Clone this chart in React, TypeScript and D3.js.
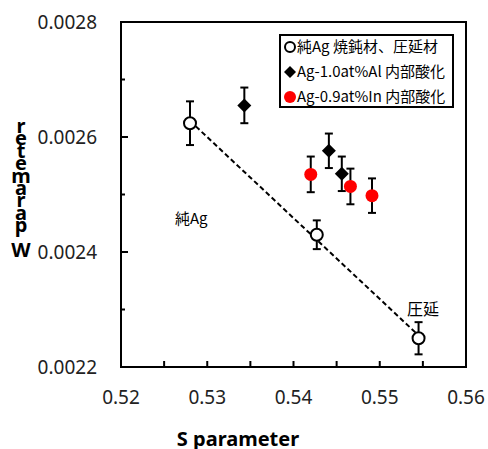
import * as d3 from "d3";

// x tick labels and y tick labels
const xTicks = [0.52, 0.53, 0.54, 0.55, 0.56];
const yTicks = [0.0022, 0.0024, 0.0026, 0.0028];

// Pure Ag (annealed, rolled)
const pureS = [0.528, 0.5427, 0.5545];
const pureW = [0.002624, 0.00243, 0.00225];
const pureErr = [0.000038, 0.000025, 0.000028];

// Ag-1.0at%Al internal oxidation
const alS = [0.5343, 0.5441, 0.5456];
const alW = [0.002655, 0.002576, 0.002536];
const alErr = [0.000031, 0.00003, 0.00003];

// Ag-0.9at%In internal oxidation
const inS = [0.542, 0.5466, 0.5491];
const inW = [0.002535, 0.002514, 0.002498];
const inErr = [0.000031, 0.000031, 0.00003];

const legendLabels = ["純Ag 焼鈍材、圧延材", "Ag-1.0at%Al 内部酸化", "Ag-0.9at%In 内部酸化"];

const W = 488;
const H = 449;
const margin = { left: 121, top: 22, right: 22, bottom: 82 };

export default function App() {
  const x = d3.scaleLinear().domain([0.52, 0.56]).range([margin.left, W - margin.right]);
  const y = d3.scaleLinear().domain([0.0022, 0.0028]).range([H - margin.bottom, margin.top]);

  const tickFont = "'Noto Sans', 'DejaVu Sans', sans-serif";
  const cjkFont = "'Noto Sans CJK JP', 'Noto Sans', sans-serif";

  // least squares fit for the pure Ag trend line
  const mx = d3.mean(pureS)!;
  const my = d3.mean(pureW)!;
  const sxy = d3.sum(pureS.map((s, i) => (s - mx) * (pureW[i] - my)));
  const sxx = d3.sum(pureS.map((s) => (s - mx) ** 2));
  const slope = sxy / sxx;
  const fit = (s: number) => my + slope * (s - mx);
  const sMin = d3.min(pureS)!;
  const sMax = d3.max(pureS)!;

  const minorX = d3.range(0.525, 0.556, 0.005);
  const ticksY = d3.range(0.0023, 0.00275, 0.0001);

  const errBar = (s: number, w: number, e: number, k: string) => (
    <g key={k} stroke="#000" strokeWidth={2}>
      <line x1={x(s)} x2={x(s)} y1={y(w - e)} y2={y(w + e)} />
      <line x1={x(s) - 4} x2={x(s) + 4} y1={y(w - e)} y2={y(w - e)} />
      <line x1={x(s) - 4} x2={x(s) + 4} y1={y(w + e)} y2={y(w + e)} />
    </g>
  );

  const diamond = (cx: number, cy: number, r: number) =>
    `M${cx},${cy - r}L${cx + r},${cy}L${cx},${cy + r}L${cx - r},${cy}Z`;

  // y title is drawn as upright stacked letters, bottom to top
  const yLabel = "W parameter".split("");

  return (
    <svg width={W} height={H} style={{ position: "absolute", left: 0, top: 0, background: "#fff" }}>
      {/* dashed trend line */}
      <line
        x1={x(sMin)}
        y1={y(fit(sMin))}
        x2={x(sMax)}
        y2={y(fit(sMax))}
        stroke="#000"
        strokeWidth={2}
        strokeDasharray="5,3"
      />

      {/* error bars */}
      {pureS.map((s, i) => errBar(s, pureW[i], pureErr[i], "pe" + i))}
      {alS.map((s, i) => errBar(s, alW[i], alErr[i], "ae" + i))}
      {inS.map((s, i) => errBar(s, inW[i], inErr[i], "ie" + i))}

      {/* markers */}
      {pureS.map((s, i) => (
        <circle key={"p" + i} cx={x(s)} cy={y(pureW[i])} r={6} fill="#fff" stroke="#000" strokeWidth={2} />
      ))}
      {alS.map((s, i) => (
        <path key={"a" + i} d={diamond(x(s), y(alW[i]), 7)} fill="#000" />
      ))}
      {inS.map((s, i) => (
        <circle key={"n" + i} cx={x(s)} cy={y(inW[i])} r={6.5} fill="#ff0000" />
      ))}

      {/* frame */}
      <rect
        x={margin.left}
        y={margin.top}
        width={W - margin.left - margin.right}
        height={H - margin.top - margin.bottom}
        fill="none"
        stroke="#000"
        strokeWidth={2}
      />

      {/* x ticks */}
      {minorX.map((t, i) => (
        <line key={"xt" + i} x1={x(t)} x2={x(t)} y1={y(0.0022)} y2={y(0.0022) - 6} stroke="#000" strokeWidth={2} />
      ))}
      {/* y ticks */}
      {ticksY.map((t, i) => (
        <line
          key={"yt" + i}
          x1={x(0.52)}
          x2={x(0.52) + (i % 2 === 1 ? 7 : 4)}
          y1={y(t)}
          y2={y(t)}
          stroke="#000"
          strokeWidth={2}
        />
      ))}

      {/* tick labels */}
      {xTicks.map((t) => (
        <text key={"xl" + t} x={x(t)} y={404} textAnchor="middle" fontSize={19} fontFamily={tickFont} fill="#222">
          {d3.format(".2f")(t)}
        </text>
      ))}
      {yTicks.map((t) => (
        <text
          key={"yl" + t}
          x={97}
          y={y(t)}
          dy="0.35em"
          textAnchor="end"
          fontSize={19}
          fontFamily={tickFont}
          fill="#222"
        >
          {d3.format(".4f")(t)}
        </text>
      ))}

      {/* axis titles */}
      <text x={238} y={446} textAnchor="middle" fontSize={20} fontWeight="bold" fontFamily={tickFont} fill="#000">
        S parameter
      </text>
      {yLabel.map((c, i) => (
        <text
          key={"yc" + i}
          x={21}
          y={257 - i * 12.4}
          textAnchor="middle"
          fontSize={20}
          fontWeight="bold"
          fontFamily={tickFont}
          fill="#000"
        >
          {c}
        </text>
      ))}

      {/* annotations */}
      <text x={175} y={224} fontSize={15} fontFamily={cjkFont} fill="#000">
        純Ag
      </text>
      <text x={407} y={315} fontSize={16} fontFamily={cjkFont} fill="#000">
        圧延
      </text>

      {/* legend */}
      <rect x={280} y={35} width={173} height={72} fill="#fff" stroke="#000" strokeWidth={2} />
      <circle cx={290} cy={47} r={5} fill="#fff" stroke="#000" strokeWidth={2} />
      <path d={diamond(290, 72, 6)} fill="#000" />
      <circle cx={290} cy={97} r={6} fill="#ff0000" />
      {legendLabels.map((l, i) => (
        <text key={"lg" + i} x={297} y={47 + i * 25} dy="0.35em" fontSize={15} fontFamily={cjkFont} fill="#000">
          {l}
        </text>
      ))}
    </svg>
  );
}
